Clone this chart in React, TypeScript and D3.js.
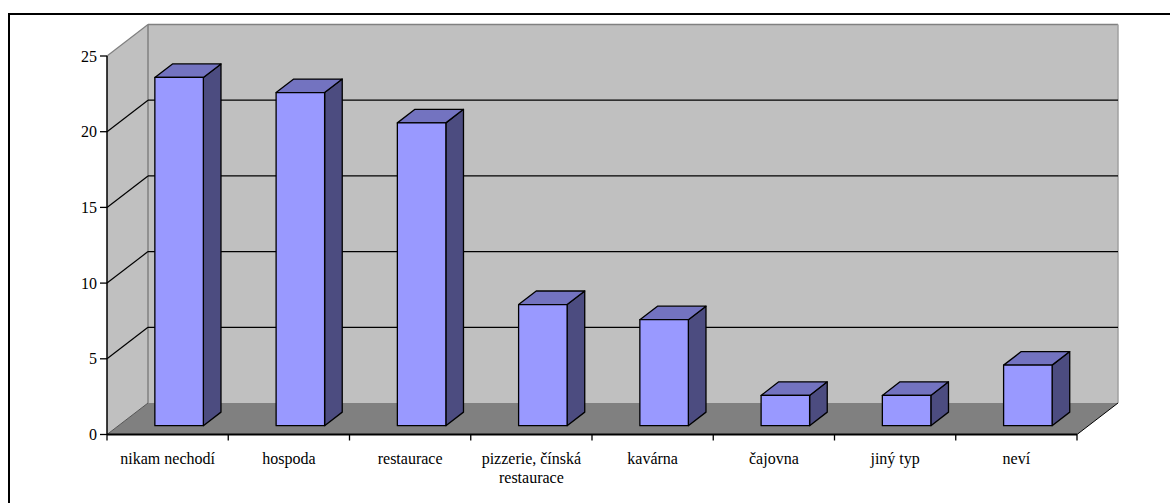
import React, { useEffect, useRef } from "react";
import * as d3 from "d3";

const categories = [
  "nikam nechodí",
  "hospoda",
  "restaurace",
  "pizzerie, čínská restaurace",
  "kavárna",
  "čajovna",
  "jiný typ",
  "neví",
];
const values = [23, 22, 20, 8, 7, 2, 2, 4];
const yTicks = [0, 5, 10, 15, 20, 25];

const W = 1170;
const H = 503;
const DX = 41;
const DY = 31.5;
const D0 = 0.28;
const D1 = 0.71;
const FONT = '"Liberation Serif", "DejaVu Serif", serif';

export default function App() {
  const ref = useRef<SVGSVGElement | null>(null);

  useEffect(() => {
    const svg = d3.select(ref.current);
    svg.selectAll("*").remove();

    const x = d3.scaleBand<string>().domain(categories).range([107, 1077]).padding(0);
    const y = d3.scaleLinear().domain([0, 25]).range([434.5, 56]);
    const [xa, xb] = x.range();
    const y0 = y(0);
    const yTop = y(25);
    const P = (px: number, py: number, d: number) => [px + d * DX, py - d * DY];
    const pts = (arr: number[][]) => arr.map((p) => p.join(",")).join(" ");

    // outer border
    svg.append("rect").attr("x", 9).attr("y", 14).attr("width", W + 20).attr("height", H + 20)
      .attr("fill", "#fff").attr("stroke", "#000").attr("stroke-width", 2);

    // back wall
    svg.append("polygon")
      .attr("points", pts([P(xa, yTop, 1), P(xb, yTop, 1), P(xb, y0, 1), P(xa, y0, 1)]))
      .attr("fill", "#C0C0C0");
    // side wall
    svg.append("polygon")
      .attr("points", pts([P(xa, yTop, 0), P(xa, yTop, 1), P(xa, y0, 1), P(xa, y0, 0)]))
      .attr("fill", "#C0C0C0");
    // floor
    svg.append("polygon")
      .attr("points", pts([P(xa, y0, 0), P(xa, y0, 1), P(xb, y0, 1), P(xb, y0, 0)]))
      .attr("fill", "#808080");

    const line = (a: number[], b: number[], col: string, w = 1) =>
      svg.append("line").attr("x1", a[0]).attr("y1", a[1]).attr("x2", b[0]).attr("y2", b[1])
        .attr("stroke", col).attr("stroke-width", w);
    line(P(xa, yTop, 1), P(xb, yTop, 1), "#808080", 1.5);
    line(P(xb, yTop, 1), P(xb, y0, 1), "#A0A0A0", 1.5);
    line(P(xa, yTop, 1), P(xa, y0, 1), "#808080", 1.5);
    line(P(xa, yTop, 0), P(xa, yTop, 1), "#808080", 1.2);
    line(P(xa, y0, 0), P(xa, y0, 1), "#555", 1);
    line(P(xb, y0, 0), P(xb, y0, 1), "#000", 1);

    // gridlines
    yTicks.filter((t) => t > 0 && t < 25).forEach((t) => {
      line(P(xa, y(t), 0), P(xa, y(t), 1), "#000", 1.2);
      line(P(xa, y(t), 1), P(xb, y(t), 1), "#000", 1.2);
    });

    // bars
    const bw = x.bandwidth() * 0.4;
    categories.forEach((c, i) => {
      const cx = (x(c) as number) + x.bandwidth() / 2;
      const l = cx - bw / 2;
      const r = cx + bw / 2;
      const yt = y(values[i]);
      const g = svg.append("g").attr("stroke", "#000").attr("stroke-width", 1.3)
        .attr("stroke-linejoin", "round");
      g.append("polygon")
        .attr("points", pts([P(r, yt, D0), P(r, yt, D1), P(r, y0, D1), P(r, y0, D0)]))
        .attr("fill", "#4C4C80");
      g.append("polygon")
        .attr("points", pts([P(l, yt, D0), P(l, yt, D1), P(r, yt, D1), P(r, yt, D0)]))
        .attr("fill", "#7373C0");
      g.append("polygon")
        .attr("points", pts([P(l, yt, D0), P(r, yt, D0), P(r, y0, D0), P(l, y0, D0)]))
        .attr("fill", "#9999FF");
    });

    // y axis
    line([xa, yTop], [xa, y0], "#000", 1.5);
    yTicks.forEach((t) => {
      line([xa - 7, y(t)], [xa, y(t)], "#000", 1.3);
      svg.append("text").attr("x", 97).attr("y", y(t)).attr("dy", "0.35em")
        .attr("text-anchor", "end").style("font-family", FONT).style("font-size", "16px")
        .attr("fill", "#000").text(String(t));
    });

    // x axis
    line([xa, y0], [xb, y0], "#000", 2);
    const edges = categories.map((c) => x(c) as number).concat([xb]);
    edges.forEach((e) => line([e, y0], [e, y0 + 6], "#000", 1.3));

    categories.forEach((c) => {
      const cx = (x(c) as number) + x.bandwidth() / 2;
      const t = svg.append("text").attr("x", cx).attr("y", 464)
        .attr("text-anchor", "middle").style("font-family", FONT).style("font-size", "16px")
        .attr("fill", "#000");
      const words = c.split(" ");
      let lineWords: string[] = [];
      let ts = t.append("tspan").attr("x", cx).attr("y", 464);
      let lineNo = 0;
      words.forEach((w) => {
        lineWords.push(w);
        ts.text(lineWords.join(" "));
        const len = (ts.node() as SVGTSpanElement).getComputedTextLength();
        if (len > x.bandwidth() * 0.95 && lineWords.length > 1) {
          lineWords.pop();
          ts.text(lineWords.join(" "));
          lineWords = [w];
          lineNo += 1;
          ts = t.append("tspan").attr("x", cx).attr("y", 464 + lineNo * 19).text(w);
        }
      });
    });
  }, []);

  return (
    <svg ref={ref} width={W} height={H} style={{ display: "block", position: "absolute", left: 0, top: 0 }} />
  );
}
